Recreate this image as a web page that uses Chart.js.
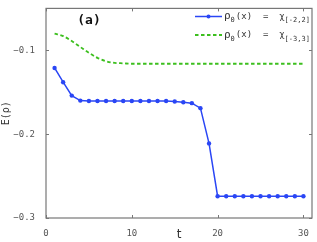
<!DOCTYPE html>
<html>
<head>
<meta charset="utf-8">
<script src="https://cdn.jsdelivr.net/npm/chart.js@4"></script>
<style>
  html, body { margin: 0; padding: 0; background: #fff; }
  #wrap { width: 317px; height: 242px; }
</style>
</head>
<body>
<div id="wrap"><canvas id="c" width="317" height="242"></canvas></div>
<script>
// time steps
const tValues = [1,2,3,4,5,6,7,8,9,10,11,12,13,14,15,16,17,18,19,20,21,22,23,24,25,26,27,28,29,30];
// rho_0 = chi[-2,2]
const energyA = [-0.121,-0.138,-0.154,-0.160,-0.1605,-0.1605,-0.1605,-0.1605,-0.1605,-0.1605,
  -0.1605,-0.1605,-0.1605,-0.1605,-0.161,-0.162,-0.163,-0.169,-0.211,-0.274,
  -0.274,-0.274,-0.274,-0.274,-0.274,-0.274,-0.274,-0.274,-0.274,-0.274];
// rho_0 = chi[-3,3]
const energyB = [-0.080,-0.083,-0.089,-0.096,-0.103,-0.109,-0.113,-0.115,-0.1155,-0.116,
  -0.116,-0.116,-0.116,-0.116,-0.116,-0.116,-0.116,-0.116,-0.116,-0.116,
  -0.116,-0.116,-0.116,-0.116,-0.116,-0.116,-0.116,-0.116,-0.116,-0.116];
const xTicks = [0, 10, 20, 30];
const yTicks = [-0.3, -0.2, -0.1];
const legendItems = [
  { main: "ρ", sub1: "0", mid: "(x)  =  χ", sub2: "[-2,2]" },
  { main: "ρ", sub1: "0", mid: "(x)  =  χ", sub2: "[-3,3]" }
];

const blue = "#2a46f5";
const green = "#3cbf1e";
const frame = "#777";
const mono = "'DejaVu Sans Mono', 'Liberation Mono', monospace";
const greenDash = [3.5, 2.5];

// inner ticks on all four sides, plus frame, title and legend
const decor = {
  id: "decor",
  afterDraw(chart) {
    const { ctx, chartArea: a, scales } = chart;
    ctx.save();
    ctx.strokeStyle = frame;
    ctx.lineWidth = 1.2;
    ctx.strokeRect(a.left, a.top, a.right - a.left, a.bottom - a.top);
    ctx.lineWidth = 1;
    xTicks.forEach(v => {
      const x = Math.round(scales.x.getPixelForValue(v)) + 0.5;
      ctx.beginPath();
      ctx.moveTo(x, a.bottom); ctx.lineTo(x, a.bottom - 3);
      ctx.moveTo(x, a.top); ctx.lineTo(x, a.top + 3);
      ctx.stroke();
    });
    yTicks.forEach(v => {
      const y = Math.round(scales.y.getPixelForValue(v)) + 0.5;
      ctx.beginPath();
      ctx.moveTo(a.left, y); ctx.lineTo(a.left + 3, y);
      ctx.moveTo(a.right, y); ctx.lineTo(a.right - 3, y);
      ctx.stroke();
    });

    // panel label
    ctx.fillStyle = "#111";
    ctx.font = "bold 13px " + mono;
    ctx.textAlign = "center";
    ctx.textBaseline = "middle";
    ctx.fillText("(a)", 89, 21);

    // legend
    const rows = [16.5, 35];
    ctx.textAlign = "left";
    ctx.textBaseline = "middle";
    legendItems.forEach((it, i) => {
      const y = rows[i];
      ctx.beginPath();
      if (i === 0) {
        ctx.lineWidth = 1.5;
        ctx.strokeStyle = blue;
        ctx.setLineDash([]);
      } else {
        ctx.lineWidth = 1.8;
        ctx.strokeStyle = green;
        ctx.setLineDash(greenDash);
      }
      ctx.moveTo(195, y); ctx.lineTo(222, y);
      ctx.stroke();
      ctx.setLineDash([]);
      if (i === 0) {
        ctx.fillStyle = blue;
        ctx.beginPath();
        ctx.arc(208.5, y, 2, 0, Math.PI * 2);
        ctx.fill();
      }
      ctx.fillStyle = "#333";
      let x = 224;
      ctx.font = "11px " + mono;
      ctx.fillText(it.main, x, y); x += ctx.measureText(it.main).width;
      ctx.font = "7px " + mono;
      ctx.fillText(it.sub1, x, y + 4); x += ctx.measureText(it.sub1).width + 1;
      ctx.font = "9px " + mono;
      ctx.fillText(it.mid, x, y); x += ctx.measureText(it.mid).width;
      ctx.font = "7px " + mono;
      ctx.fillText(it.sub2, x, y + 4);
    });
    ctx.restore();
  }
};

new Chart(document.getElementById("c"), {
  type: "line",
  data: {
    labels: tValues,
    datasets: [
      {
        data: tValues.map((t, i) => ({ x: t, y: energyA[i] })),
        borderColor: blue,
        backgroundColor: blue,
        borderWidth: 1.5,
        pointRadius: 2.2,
        pointBorderWidth: 0,
        tension: 0
      },
      {
        data: tValues.map((t, i) => ({ x: t, y: energyB[i] })),
        borderColor: green,
        borderWidth: 1.8,
        borderDash: greenDash,
        pointRadius: 0,
        cubicInterpolationMode: "monotone"
      }
    ]
  },
  options: {
    responsive: false,
    animation: false,
    layout: { padding: { top: 6, right: 5, left: 0, bottom: 0 } },
    plugins: { legend: { display: false }, tooltip: { enabled: false } },
    scales: {
      x: {
        type: "linear",
        min: 0,
        max: 31,
        afterBuildTicks: s => { s.ticks = xTicks.map(v => ({ value: v })); },
        afterFit: s => { s.height = 24; },
        grid: { display: false },
        border: { display: false },
        ticks: {
          color: "#555",
          font: { family: mono, size: 9 },
          padding: 2,
          maxRotation: 0,
          callback: v => String(v)
        },
        title: {
          display: true,
          text: "t",
          color: "#333",
          font: { family: "'DejaVu Sans', sans-serif", size: 12 },
          padding: { top: 0, bottom: 0 }
        }
      },
      y: {
        min: -0.3,
        max: -0.05,
        afterBuildTicks: s => { s.ticks = yTicks.map(v => ({ value: v })); },
        afterFit: s => { s.width = 46; },
        grid: { display: false },
        border: { display: false },
        ticks: {
          color: "#555",
          font: { family: mono, size: 9 },
          padding: 3,
          callback: v => "−" + Math.abs(v).toFixed(1)
        },
        title: {
          display: true,
          text: "E(ρ)",
          color: "#333",
          font: { family: mono, size: 10 },
          padding: { top: 0, bottom: 4 }
        }
      }
    }
  },
  plugins: [decor]
});
</script>
</body>
</html>
